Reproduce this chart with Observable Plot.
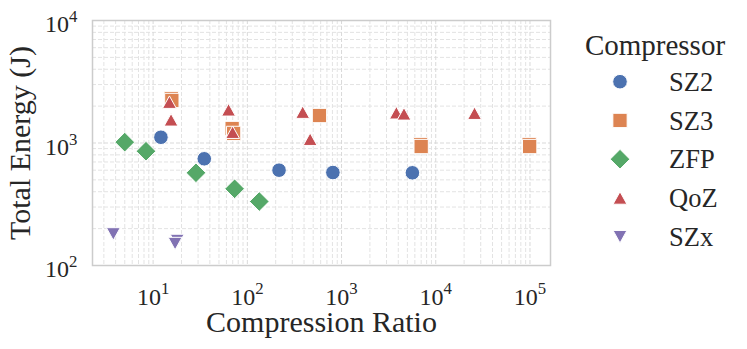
<!DOCTYPE html>
<html><head><meta charset="utf-8">
<script src="https://cdn.jsdelivr.net/npm/d3@7"></script>
<script src="https://cdn.jsdelivr.net/npm/@observablehq/plot@0.6"></script>
<style>
body{margin:0;background:#fff;}
#chart{width:747px;height:349px;}
svg{font-family:"Liberation Serif","Times New Roman",serif;}
</style></head><body><div id="chart"></div>
<script>
const compressors = ["SZ2","SZ3","ZFP","QoZ","SZx"];
const colors = ["#4C72B0","#DD8452","#55A868","#C44E52","#8172B3"];

const sz2Ratio  = [12.1, 34.9, 217, 809, 5650];
const sz2Energy = [1114, 743, 600, 574, 571];
const sz3Ratio  = [15.6, 15.8, 69, 71.5, 583, 6900, 7000, 98000, 99300];
const sz3Energy = [2307, 2224, 1313, 1197, 1676, 972, 936, 972, 936];
const zfpRatio  = [5.0, 8.4, 28.5, 73.3, 134];
const zfpEnergy = [1016, 857, 571, 423, 333];
const qozRatio  = [14.9, 15.5, 63.2, 69.8, 387, 464, 3820, 4600, 25800];
const qozEnergy = [2155, 1546, 1866, 1225, 1786, 1074, 1766, 1730, 1751];
const szxRatio  = [3.78, 18.0, 17.1];
const szxEnergy = [181, 160, 151];

const xTickExponents = [1, 2, 3, 4, 5];
const yTickExponents = [2, 3, 4];
const xLabel = "Compression Ratio";
const yLabel = "Total Energy (J)";
const legendTitle = "Compressor";

const series = {
  SZ2: [sz2Ratio, sz2Energy], SZ3: [sz3Ratio, sz3Energy], ZFP: [zfpRatio, zfpEnergy],
  QoZ: [qozRatio, qozEnergy], SZx: [szxRatio, szxEnergy]
};
const data = compressors.flatMap(c => series[c][0].map((r, i) => ({compressor: c, ratio: r, energy: series[c][1][i]})));

function sym(fn){ return {draw(ctx, size){ const r = Math.sqrt(size / Math.PI); fn(ctx, r); }}; }
const symbols = [
  sym((c, r) => { c.moveTo(r, 0); c.arc(0, 0, r, 0, 2 * Math.PI); c.closePath(); }),
  sym((c, r) => { const s = r * 0.98; c.moveTo(-s, -s); c.lineTo(s, -s); c.lineTo(s, s); c.lineTo(-s, s); c.closePath(); }),
  sym((c, r) => { const s = r * 1.35; c.moveTo(0, -s); c.lineTo(s, 0); c.lineTo(0, s); c.lineTo(-s, 0); c.closePath(); }),
  sym((c, r) => { const s = r * 0.95; c.moveTo(0, -0.9 * s); c.lineTo(s, 0.9 * s); c.lineTo(-s, 0.9 * s); c.closePath(); }),
  sym((c, r) => { const s = r * 0.95; c.moveTo(0, 0.9 * s); c.lineTo(s, -0.9 * s); c.lineTo(-s, -0.9 * s); c.closePath(); })
];

const lx = d3.extent(data, d => Math.log10(d.ratio));
const pad = (lx[1] - lx[0]) * 0.05;
const xDomain = [10 ** (lx[0] - pad), 10 ** (lx[1] + pad)];
const yDomain = [10 ** yTickExponents[0], 10 ** yTickExponents[yTickExponents.length - 1]];

const xMajor = xTickExponents.map(k => 10 ** k);
const yMajor = yTickExponents.map(k => 10 ** k);
const minor = (dom) => d3.range(-1, 7).flatMap(k => d3.range(2, 10).map(m => m * 10 ** k)).filter(v => v > dom[0] && v < dom[1]);
const xMinor = minor(xDomain);
const yMinor = minor(yDomain);
const fmt = d => "10^" + Math.round(Math.log10(d));

const gridStyle = {stroke: "#e3e3e3", strokeOpacity: 1, strokeWidth: 1, strokeDasharray: "4,2"};
const gridMajor = {stroke: "#d9d9d9", strokeOpacity: 1, strokeWidth: 1, strokeDasharray: "4,2"};

const chart = Plot.plot({
  width: 747, height: 349,
  marginLeft: 92, marginRight: 197, marginTop: 20, marginBottom: 84,
  style: {fontFamily: '"Liberation Serif","Times New Roman",serif', fontSize: "24px", color: "#262626", background: "white", overflow: "visible"},
  x: {type: "log", domain: xDomain},
  y: {type: "log", domain: yDomain},
  color: {domain: compressors, range: colors},
  symbol: {domain: compressors, range: symbols},
  marks: [
    Plot.gridX(xMinor, gridStyle),
    Plot.gridY(yMinor, gridStyle),
    Plot.gridX(xMajor, gridMajor),
    Plot.gridY(yMajor, gridMajor),
    Plot.frame({stroke: "#cccccc", strokeWidth: 1.5}),
    Plot.axisX(xMajor, {tickSize: 0, tickPadding: 22, tickFormat: fmt, label: null, fontSize: 24, fill: "#262626"}),
    Plot.axisY(yMajor, {tickSize: 0, tickPadding: 15, tickFormat: fmt, label: null, fontSize: 24, dy: 4, fill: "#262626"}),
    Plot.dot(data, {x: "ratio", y: "energy", fill: "compressor", symbol: "compressor", r: 7.3, stroke: "white", strokeWidth: 1, fillOpacity: 1}),
    Plot.text([xLabel], {text: d => d, frameAnchor: "bottom", lineAnchor: "middle", textAnchor: "middle", dy: 57, fontSize: 30, fill: "#262626"}),
    Plot.text([yLabel], {text: d => d, frameAnchor: "left", lineAnchor: "middle", textAnchor: "middle", dx: -72, rotate: -90, fontSize: 30, fill: "#262626"})
  ]
});

// superscript tick labels
d3.select(chart).selectAll('g[aria-label$="tick label"] text').each(function(){
  const t = this.textContent;
  const m = /^10\^(-?\d+)$/.exec(t);
  if (!m) return;
  const sel = d3.select(this);
  sel.text("");
  sel.append("tspan").text("10");
  sel.append("tspan").attr("dy", "-0.6em").attr("font-size", "0.7em").text(m[1]);
});

// legend
const svg = d3.select(chart);
const lg = svg.append("g").attr("font-family", '"Liberation Serif","Times New Roman",serif').attr("fill", "#262626");
lg.append("text").attr("x", 655).attr("y", 45).attr("dy", "0.35em").attr("text-anchor", "middle").attr("font-size", 29).text(legendTitle);
compressors.forEach((c, i) => {
  const y = 81.7 + 38.75 * i;
  const p = d3.path();
  symbols[i].draw(p, Math.PI * 7.3 * 7.3);
  lg.append("path").attr("d", p.toString()).attr("transform", `translate(620,${y})`).attr("fill", colors[i]).attr("stroke", "white").attr("stroke-width", 1);
  lg.append("text").attr("x", 669).attr("y", y).attr("dy", "0.35em").attr("text-anchor", "start").attr("font-size", 26.5).text(c);
});

document.getElementById("chart").appendChild(chart);
</script></body></html>
